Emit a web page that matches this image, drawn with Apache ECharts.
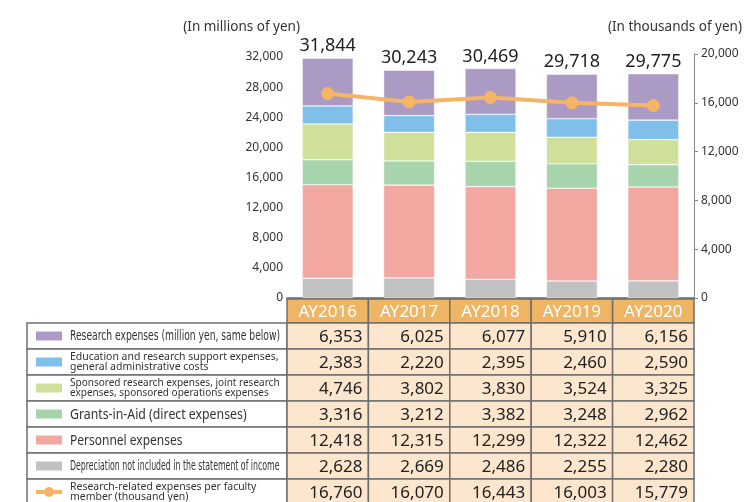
<!DOCTYPE html>
<html>
<head>
<meta charset="utf-8">
<script src="https://cdn.jsdelivr.net/npm/echarts@6/dist/echarts.min.js"></script>
<style>
  html, body { margin: 0; padding: 0; background: #fff; }
  #chart { width: 745px; height: 502px; }
</style>
</head>
<body>
<div id="chart"></div>
<script>
// Fiscal years
const categories = ['AY2016', 'AY2017', 'AY2018', 'AY2019', 'AY2020'];

// Expense breakdown (million yen)
const research     = [6353, 6025, 6077, 5910, 6156];
const support      = [2383, 2220, 2395, 2460, 2590];
const sponsored    = [4746, 3802, 3830, 3524, 3325];
const grants       = [3316, 3212, 3382, 3248, 2962];
const personnel    = [12418, 12315, 12299, 12322, 12462];
const depreciation = [2628, 2669, 2486, 2255, 2280];

// Research-related expenses per faculty member (thousand yen)
const perFaculty = [16760, 16070, 16443, 16003, 15779];

// Stack totals shown above each bar (million yen)
const totals = [31844, 30243, 30469, 29718, 29775];

const FONT = "'Noto Sans', 'Liberation Sans', sans-serif";
const NARROW = "'Liberation Sans Narrow', 'DejaVu Sans Condensed', 'Liberation Sans', sans-serif";

const colors = {
  research: '#ab9bc4',
  support: '#7fbfe9',
  sponsored: '#cfe09a',
  grants: '#a7d4ad',
  personnel: '#f2a7a1',
  depreciation: '#c0c1c0',
  line: '#f6b466'
};

const fmt = v => v.toLocaleString('en-US');

function barSeries(name, data, color, withTotal) {
  const s = {
    name, type: 'bar', stack: 'cost', data,
    barWidth: 51,
    itemStyle: { color, borderColor: 'rgba(255,255,255,0.7)', borderWidth: 0.6 },
    emphasis: { disabled: true }
  };
  if (withTotal) {
    s.label = {
      show: true, position: 'top', distance: 3,
      formatter: p => fmt(totals[p.dataIndex]),
      fontFamily: FONT, fontSize: 18, color: '#222'
    };
  }
  return s;
}

const chart = echarts.init(document.getElementById('chart'), null, { renderer: 'canvas' });

const GRID = { left: 287, top: 54, width: 407, height: 244 };

chart.setOption({
  animation: false,
  backgroundColor: '#fff',
  grid: GRID,
  xAxis: {
    type: 'category', data: categories,
    axisLine: { lineStyle: { color: '#666', width: 1.5 } },
    axisTick: { show: false },
    axisLabel: { show: false }
  },
  yAxis: [
    {
      type: 'value', min: 0, max: 32400, interval: 4000,
      axisLine: { show: false }, axisTick: { show: false }, splitLine: { show: false },
      axisLabel: {
        margin: 4, fontFamily: FONT, fontSize: 12, color: '#333',
        formatter: v => (v % 4000 === 0 ? fmt(v) : '')
      }
    },
    {
      type: 'value', min: 0, max: 20000, interval: 4000, position: 'right',
      axisLine: { show: true, lineStyle: { color: '#888', width: 1 } },
      axisTick: { show: true, inside: false, length: 4, lineStyle: { color: '#888' } },
      splitLine: { show: false },
      axisLabel: { margin: 7, fontFamily: FONT, fontSize: 12, color: '#333', formatter: v => fmt(v) }
    }
  ],
  series: [
    barSeries('Depreciation', depreciation, colors.depreciation),
    barSeries('Personnel', personnel, colors.personnel),
    barSeries('Grants', grants, colors.grants),
    barSeries('Sponsored', sponsored, colors.sponsored),
    barSeries('Support', support, colors.support),
    barSeries('Research', research, colors.research, true),
    {
      name: 'Per faculty', type: 'line', yAxisIndex: 1, data: perFaculty,
      symbol: 'circle', symbolSize: 13,
      lineStyle: { color: colors.line, width: 4 },
      itemStyle: { color: colors.line },
      emphasis: { disabled: true }, z: 5
    }
  ]
});

// Data table beneath the chart
const rows = [
  { values: research, color: colors.research, lines: ['Research expenses (million yen, same below)'], size: 14, narrow: true, sx: 0.73 },
  { values: support, color: colors.support, lines: ['Education and research support expenses,', 'general administrative costs'], size: 11.5, sx: 0.91 },
  { values: sponsored, color: colors.sponsored, lines: ['Sponsored research expenses, joint research', 'expenses, sponsored operations expenses'], size: 11.5, sx: 0.87 },
  { values: grants, color: colors.grants, lines: ['Grants-in-Aid (direct expenses)'], size: 15, sx: 0.82 },
  { values: personnel, color: colors.personnel, lines: ['Personnel expenses'], size: 15, sx: 0.80 },
  { values: depreciation, color: colors.depreciation, lines: ['Depreciation not included in the statement of income'], size: 14, narrow: true, sx: 0.62 },
  { values: perFaculty, color: colors.line, lines: ['Research-related expenses per faculty', 'member (thousand yen)'], size: 11.5, sx: 0.91, isLine: true }
];

function buildTable() {
  const els = [];
  const tableLeft = 27;
  const colLeft = GRID.left;
  const colW = GRID.width / categories.length;
  const headTop = 299, headH = 24, rowH = 26;
  const border = '#6f6f6f';

  // header cells
  categories.forEach((c, i) => {
    const cx = chart.convertToPixel({ xAxisIndex: 0 }, c);
    els.push({ type: 'rect', shape: { x: colLeft + i * colW, y: headTop, width: colW, height: headH },
      style: { fill: '#eeb564', stroke: border, lineWidth: 1.5 } });
    els.push({ type: 'text', x: cx, y: headTop + headH / 2 + 1, z: 10,
      style: { text: c, fill: '#fff', font: '17px ' + FONT, align: 'center', verticalAlign: 'middle' } });
  });

  rows.forEach((r, ri) => {
    const y = headTop + headH + ri * rowH;
    const my = y + rowH / 2;
    // legend cell
    els.push({ type: 'rect', shape: { x: tableLeft, y, width: colLeft - tableLeft, height: rowH },
      style: { fill: '#fff', stroke: border, lineWidth: 1.5 } });
    if (r.isLine) {
      els.push({ type: 'line', shape: { x1: 36, y1: my, x2: 62, y2: my }, style: { stroke: r.color, lineWidth: 4 }, z: 10 });
      els.push({ type: 'circle', shape: { cx: 49, cy: my, r: 5 }, style: { fill: r.color }, z: 10 });
    } else {
      els.push({ type: 'rect', shape: { x: 36, y: my - 4.5, width: 26, height: 9 }, style: { fill: r.color }, z: 10 });
    }
    const fam = r.narrow ? NARROW : FONT;
    if (r.lines.length === 1) {
      els.push({ type: 'text', x: 70, y: my + 0.5, scaleX: r.sx, z: 10,
        style: { text: r.lines[0], fill: '#333', font: r.size + 'px ' + fam, align: 'left', verticalAlign: 'middle' } });
    } else {
      r.lines.forEach((ln, k) => {
        els.push({ type: 'text', x: 70, y: my + (k === 0 ? -5 : 5), scaleX: r.sx, z: 10,
          style: { text: ln, fill: '#333', font: r.size + 'px ' + fam, align: 'left', verticalAlign: 'middle', lineHeight: 11 } });
      });
    }
    // value cells
    r.values.forEach((v, i) => {
      const x0 = colLeft + i * colW;
      els.push({ type: 'rect', shape: { x: x0, y, width: colW, height: rowH },
        style: { fill: '#fce6cd', stroke: border, lineWidth: 1.5 } });
      els.push({ type: 'text', x: x0 + colW - 6, y: my + 1, z: 10,
        style: { text: fmt(v), fill: '#222', font: '17px ' + FONT, align: 'right', verticalAlign: 'middle' } });
    });
  });

  // axis unit captions
  els.push({ type: 'text', x: 300, y: 27, style: { text: '(In millions of yen)', fill: '#333', font: '13.5px ' + FONT, align: 'right', verticalAlign: 'middle' } });
  els.push({ type: 'text', x: 742, y: 27, style: { text: '(In thousands of yen)', fill: '#333', font: '13.5px ' + FONT, align: 'right', verticalAlign: 'middle' } });
  return els;
}

chart.setOption({ graphic: { elements: buildTable() } });
</script>
</body>
</html>
